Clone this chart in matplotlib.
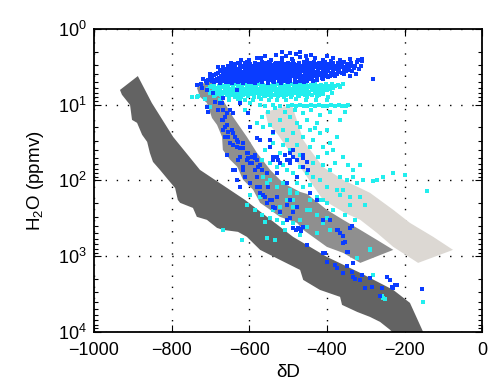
import matplotlib
matplotlib.use("Agg")
import matplotlib.pyplot as plt
from matplotlib.patches import Polygon
from matplotlib.ticker import FixedLocator, LogLocator, NullFormatter

plt.rcParams['font.family'] = ['Liberation Sans', 'DejaVu Sans']
plt.rcParams['mathtext.fontset'] = 'custom'
plt.rcParams['mathtext.rm'] = 'Liberation Sans'
plt.rcParams['mathtext.it'] = 'Liberation Sans:italic'
plt.rcParams['mathtext.default'] = 'regular'

# ---- model envelopes (dD in permil, H2O in ppmv) ----
dark_dD = [-933, -887, -851, -796, -727, -611, -487, -400, -314, -229, -186, -142,
           -211, -237, -263, -289, -322, -361, -366, -418, -461, -469, -521, -572,
           -606, -629, -668, -683, -709, -735, -745, -778, -784, -791, -809, -830,
           -848, -856, -863, -876, -889, -902, -907, -928]
dark_h2o = [6.4, 4.2, 9.5, 26.7, 72.7, 181, 557, 1023, 1665, 2792, 4143, 13000,
            13000, 9414, 7380, 6340, 5450, 4400, 3450, 2790, 2060, 1520, 1120, 827,
            557, 478, 450, 424, 332, 303, 231, 198, 181, 126, 98, 72.7,
            57, 43.4, 31, 25, 17.4, 15.9, 10.1, 7.4]

mid_dD = [-735, -701, -668, -642, -606, -580, -546, -513, -469, -451, -400, -358,
          -314, -271, -229, -314, -358, -400, -425, -461, -477, -521, -546, -572,
          -590, -616, -631, -649, -668, -670, -683, -696, -709, -727]
mid_h2o = [6.0, 4.57, 8.65, 14.5, 26.7, 43.4, 72.7, 108, 142, 151, 245, 332,
           450, 611, 827, 1228, 906, 755, 610, 450, 364, 303, 245, 198,
           133, 98, 66, 53.6, 39.6, 26.7, 18.5, 15.0, 9.5, 7.9]

light_dD = [-559, -490, -461, -443, -410, -358, -289, -229, -186, -126, -75,
            -165, -229, -271, -314, -353, -410, -469, -526, -552]
light_h2o = [12.5, 10.1, 29.2, 39.6, 66.4, 98.5, 146, 245, 364, 557, 827,
             1228, 755, 493, 332, 270, 181, 66.4, 25, 17.4]

# ---- observations: upper (blue) ----
blue_pts = [
    (-600, 2.55), (-570, 2.45), (-545, 2.6), (-515, 2.4), (-490, 2.5), (-470, 2.35), (-452, 2.6),
    (-430, 2.45), (-410, 2.55), (-385, 2.4), (-365, 2.6), (-340, 2.5), (-320, 2.55), (-505, 2.25),
    (-560, 2.3), (-440, 2.2), (-480, 2.15),
    (-630, 2.8), (-605, 2.7), (-585, 2.85), (-566, 2.75), (-550, 2.7), (-532, 2.85), (-516, 2.75),
    (-500, 2.8), (-487, 2.65), (-473, 2.8), (-460, 2.75), (-446, 2.85), (-433, 2.7), (-420, 2.8),
    (-405, 2.75), (-390, 2.65), (-372, 2.8), (-355, 2.7), (-338, 2.85), (-322, 2.75), (-310, 2.65),
    (-642, 2.88), (-624, 2.9), (-611, 2.85), (-598, 2.92), (-585, 2.87), (-572, 2.9), (-559, 2.84),
    (-546, 2.92), (-534, 2.88), (-521, 2.85), (-509, 2.93), (-496, 2.87), (-484, 2.9), (-472, 2.84),
    (-459, 2.92), (-447, 2.88), (-435, 2.86), (-422, 2.93), (-410, 2.87), (-397, 2.9), (-383, 2.85),
    (-366, 2.92), (-349, 2.88),
    (-655, 3.05), (-636, 2.95), (-620, 3.05), (-606, 2.9), (-592, 3.1), (-579, 2.95), (-566, 3.05),
    (-553, 2.9), (-541, 3.0), (-528, 3.1), (-515, 2.95), (-503, 3.05), (-491, 2.9), (-478, 3.0),
    (-466, 3.1), (-454, 2.95), (-441, 3.05), (-429, 2.9), (-416, 3.0), (-403, 3.1), (-390, 2.95),
    (-376, 3.05), (-360, 2.9), (-343, 3.0), (-327, 3.05),
    (-668, 3.15), (-650, 3.12), (-637, 3.18), (-624, 3.14), (-611, 3.2), (-598, 3.12), (-585, 3.17),
    (-572, 3.13), (-560, 3.19), (-547, 3.15), (-535, 3.12), (-522, 3.18), (-509, 3.14), (-497, 3.2),
    (-485, 3.12), (-473, 3.16), (-461, 3.13), (-448, 3.19), (-436, 3.15), (-424, 3.12), (-411, 3.18),
    (-398, 3.14), (-385, 3.2), (-370, 3.13), (-354, 3.16), (-338, 3.12),
    (-662, 3.35), (-645, 3.25), (-630, 3.4), (-617, 3.2), (-604, 3.3), (-591, 3.4), (-578, 3.25),
    (-566, 3.35), (-553, 3.2), (-541, 3.3), (-528, 3.4), (-516, 3.25), (-503, 3.35), (-491, 3.2),
    (-479, 3.3), (-467, 3.4), (-455, 3.25), (-442, 3.35), (-430, 3.2), (-418, 3.3), (-405, 3.4),
    (-392, 3.25), (-378, 3.35), (-362, 3.2), (-346, 3.3), (-330, 3.25),
    (-670, 3.45), (-652, 3.48), (-637, 3.43), (-623, 3.5), (-610, 3.45), (-597, 3.42), (-584, 3.48),
    (-572, 3.44), (-559, 3.5), (-547, 3.46), (-534, 3.42), (-522, 3.48), (-509, 3.45), (-497, 3.5),
    (-485, 3.43), (-473, 3.47), (-461, 3.44), (-448, 3.5), (-436, 3.46), (-424, 3.42), (-411, 3.48),
    (-398, 3.45), (-385, 3.5), (-371, 3.43), (-357, 3.47), (-342, 3.44),
    (-675, 3.6), (-658, 3.7), (-642, 3.55), (-628, 3.65), (-615, 3.75), (-602, 3.55), (-589, 3.65),
    (-576, 3.7), (-563, 3.55), (-550, 3.65), (-538, 3.75), (-525, 3.6), (-512, 3.7), (-500, 3.55),
    (-487, 3.65), (-475, 3.75), (-462, 3.6), (-450, 3.7), (-437, 3.55), (-424, 3.65), (-411, 3.75),
    (-398, 3.6), (-384, 3.7), (-368, 3.55), (-352, 3.65), (-336, 3.6),
    (-680, 3.78), (-664, 3.82), (-649, 3.76), (-635, 3.8), (-621, 3.84), (-608, 3.77), (-595, 3.81),
    (-582, 3.75), (-569, 3.83), (-556, 3.79), (-543, 3.76), (-531, 3.82), (-518, 3.78), (-505, 3.84),
    (-493, 3.76), (-480, 3.8), (-468, 3.77), (-455, 3.83), (-442, 3.79), (-429, 3.75), (-416, 3.82),
    (-402, 3.78), (-388, 3.84), (-372, 3.76), (-360, 3.8),
    (-685, 3.95), (-668, 4.05), (-652, 3.9), (-638, 4.0), (-624, 4.1), (-611, 3.9), (-598, 4.0),
    (-585, 4.1), (-572, 3.95), (-559, 4.05), (-546, 3.9), (-533, 4.0), (-521, 4.1), (-508, 3.95),
    (-495, 4.05), (-483, 3.9), (-470, 4.0), (-457, 4.1), (-444, 3.95), (-431, 4.05), (-418, 3.9),
    (-404, 4.0), (-390, 4.1), (-374, 3.95), (-356, 4.0),
    (-690, 4.12), (-672, 4.16), (-657, 4.1), (-642, 4.18), (-628, 4.13), (-615, 4.2), (-602, 4.11),
    (-589, 4.17), (-576, 4.14), (-563, 4.2), (-550, 4.1), (-537, 4.16), (-524, 4.13), (-511, 4.19),
    (-498, 4.11), (-486, 4.17), (-473, 4.14), (-460, 4.2), (-447, 4.12), (-434, 4.16), (-421, 4.1),
    (-407, 4.18), (-393, 4.14), (-378, 4.1),
    (-695, 4.3), (-678, 4.4), (-662, 4.25), (-647, 4.35), (-633, 4.45), (-620, 4.25), (-607, 4.35),
    (-594, 4.45), (-581, 4.3), (-568, 4.4), (-555, 4.25), (-542, 4.35), (-529, 4.45), (-516, 4.3),
    (-503, 4.4), (-490, 4.25), (-477, 4.35), (-464, 4.45), (-451, 4.3), (-438, 4.4), (-425, 4.25),
    (-411, 4.35), (-396, 4.3), (-380, 4.2),
    (-700, 4.5), (-684, 4.56), (-668, 4.48), (-653, 4.55), (-639, 4.6), (-625, 4.5), (-612, 4.57),
    (-599, 4.48), (-586, 4.55), (-573, 4.6), (-559, 4.5), (-546, 4.57), (-533, 4.48), (-520, 4.55),
    (-507, 4.6), (-494, 4.5), (-481, 4.56), (-467, 4.48), (-454, 4.55), (-440, 4.5), (-425, 4.56),
    (-412, 4.48),
    (-705, 4.7), (-688, 4.8), (-672, 4.65), (-657, 4.75), (-643, 4.85), (-629, 4.65), (-616, 4.75),
    (-602, 4.85), (-589, 4.7), (-576, 4.8), (-562, 4.65), (-549, 4.75), (-536, 4.85), (-522, 4.7),
    (-509, 4.8), (-496, 4.65), (-482, 4.75), (-469, 4.7), (-455, 4.8), (-441, 4.65), (-426, 4.7),
    (-410, 4.6),
    (-712, 4.9), (-696, 4.95), (-680, 4.88), (-665, 4.93), (-650, 4.98), (-636, 4.88), (-622, 4.94),
    (-608, 4.9), (-594, 4.97), (-580, 4.88), (-566, 4.93), (-552, 4.98), (-538, 4.9), (-524, 4.95),
    (-510, 4.88), (-496, 4.92), (-482, 4.96), (-468, 4.88), (-452, 4.93), (-436, 4.9),
    (-710, 5.15), (-692, 5.05), (-676, 5.2), (-660, 5.1), (-645, 5.25), (-630, 5.05), (-615, 5.15),
    (-600, 5.1), (-584, 5.2), (-568, 5.05), (-552, 5.15), (-536, 5.1), (-519, 5.2), (-500, 5.05),
    (-480, 5.1), (-458, 5.0),
    (-680, 3.2), (-700, 3.9), (-720, 4.6), (-725, 5.3), (-312, 3.1), (-318, 3.4),
    (-325, 3.9), (-340, 4.25), (-309, 2.5), (-281, 4.6), (-495, 2.1), (-530, 2.2), (-455, 2.3),
    (-400, 2.3), (-580, 2.45), (-620, 2.6), (-648, 2.8), (-515, 2.05), (-470, 2.0),
    # deeper profile points
    (-735, 5.5), (-722, 6.0), (-709, 6.4), (-696, 4.7), (-688, 9.2), (-693, 7.0), (-675, 9.5),
    (-668, 8.1), (-668, 11.7), (-680, 11.7), (-662, 14.5), (-670, 15.9), (-657, 18.5), (-644, 21.6),
    (-655, 26.7), (-637, 26.7), (-642, 34), (-629, 31), (-616, 37.2), (-624, 49), (-606, 53.6),
    (-603, 43.4), (-598, 58.7), (-585, 50.5), (-577, 66.3), (-567, 72.7), (-554, 79.6), (-616, 72.7),
    (-624, 122), (-642, 72.7), (-631, 6.4), (-624, 9.5), (-642, 12.8), (-603, 12.8), (-598, 19.6),
    (-572, 29.2), (-546, 36), (-539, 49), (-526, 53.6), (-495, 58.7), (-477, 53.6), (-461, 66.3),
    (-449, 72.7), (-709, 10.7), (-706, 12.4), (-670, 9.5), (-657, 12.8), (-650, 11.7), (-668, 15.9),
    (-662, 19.6), (-655, 22.9), (-642, 23.6), (-631, 29.2), (-650, 32), (-624, 37.2), (-616, 32),
    (-606, 43.4), (-603, 50.5), (-593, 49), (-585, 46), (-580, 53.6), (-593, 58.7), (-572, 62.4),
    (-637, 72.7), (-631, 98.5), (-611, 89.8), (-598, 108), (-580, 122), (-572, 146), (-559, 165),
    (-546, 181), (-539, 53.6), (-528, 49), (-521, 58.7), (-495, 43.4), (-487, 49), (-461, 50.5),
    (-451, 57), (-487, 39.6), (-503, 53.6), (-539, 223), (-495, 181), (-477, 223), (-443, 146),
    (-668, 21.6), (-662, 26.7), (-657, 46), (-631, 36), (-629, 53.6), (-616, 66.3), (-585, 72.7),
    (-580, 89.8), (-572, 122), (-564, 155), (-541, 181), (-534, 230), (-521, 260), (-503, 332),
    (-487, 420), (-474, 420), (-461, 407), (-469, 435), (-479, 450), (-467, 465), (-495, 313),
    (-528, 79.6), (-503, 108), (-477, 89.8), (-528, 165), (-552, 122), (-580, 27.5), (-546, 29.2),
    (-495, 53.6), (-508, 46), (-539, 22.9), (-461, 46), (-425, 181), (-410, 332), (-392, 332),
    (-371, 450), (-358, 540), (-340, 420), (-451, 710), (-554, 197), (-503, 210), (-487, 260),
    (-374, 450), (-366, 490), (-358, 670), (-335, 400), (-345, 880), (-405, 910), (-400, 1190),
    (-379, 1300), (-358, 1660), (-333, 1900), (-314, 2060), (-302, 2600), (-289, 1930), (-245, 1880),
    (-232, 2550), (-224, 2400), (-155, 2700), (-410, 910), (-374, 1430), (-348, 1350), (-335, 1610),
    (-333, 1250), (-327, 1990), (-309, 1770), (-284, 2550), (-258, 2620), (-263, 3350), (-237, 2060),
    (-219, 2400), (-229, 2620), (-353, 650), (-348, 880),
]

# ---- observations: lower (cyan) ----
cyan_pts = [
    (-690, 5.45), (-672, 5.35), (-660, 5.5), (-648, 5.4), (-636, 5.3), (-624, 5.45), (-612, 5.35),
    (-600, 5.5), (-588, 5.4), (-576, 5.3), (-564, 5.45), (-552, 5.35), (-540, 5.5), (-528, 5.4),
    (-516, 5.3), (-504, 5.45), (-492, 5.35), (-480, 5.5), (-468, 5.4), (-455, 5.3), (-442, 5.45),
    (-430, 5.35), (-416, 5.5), (-402, 5.4), (-388, 5.3), (-372, 5.45), (-358, 5.35),
    (-695, 5.65), (-678, 5.7), (-666, 5.62), (-654, 5.68), (-642, 5.72), (-630, 5.63), (-618, 5.69),
    (-606, 5.64), (-594, 5.71), (-582, 5.66), (-570, 5.62), (-558, 5.7), (-546, 5.65), (-534, 5.72),
    (-522, 5.63), (-510, 5.68), (-498, 5.64), (-486, 5.7), (-474, 5.66), (-461, 5.62), (-448, 5.7),
    (-436, 5.65), (-423, 5.72), (-409, 5.64), (-395, 5.68), (-380, 5.63), (-365, 5.7),
    (-700, 5.9), (-684, 6.0), (-668, 5.85), (-655, 5.95), (-642, 6.05), (-630, 5.85), (-618, 5.95),
    (-606, 6.05), (-594, 5.9), (-582, 6.0), (-570, 5.85), (-558, 5.95), (-546, 6.05), (-534, 5.9),
    (-522, 6.0), (-510, 5.85), (-498, 5.95), (-486, 6.05), (-473, 5.9), (-460, 6.0), (-446, 5.85),
    (-432, 5.95), (-418, 6.05), (-400, 5.9), (-385, 6.0), (-366, 5.85),
    (-705, 6.2), (-690, 6.25), (-676, 6.18), (-662, 6.24), (-649, 6.3), (-636, 6.19), (-624, 6.26),
    (-612, 6.21), (-600, 6.28), (-588, 6.18), (-576, 6.24), (-564, 6.3), (-552, 6.2), (-540, 6.26),
    (-528, 6.18), (-516, 6.24), (-504, 6.29), (-492, 6.19), (-479, 6.25), (-466, 6.21), (-452, 6.28),
    (-438, 6.18), (-424, 6.24), (-408, 6.2), (-392, 6.26),
    (-710, 6.5), (-692, 6.6), (-676, 6.45), (-662, 6.55), (-649, 6.65), (-636, 6.45), (-623, 6.55),
    (-611, 6.65), (-598, 6.5), (-586, 6.6), (-574, 6.45), (-561, 6.55), (-549, 6.65), (-537, 6.5),
    (-524, 6.6), (-511, 6.45), (-498, 6.55), (-484, 6.65), (-470, 6.5), (-454, 6.6), (-438, 6.45),
    (-420, 6.55), (-400, 6.5),
    (-700, 6.8), (-684, 6.86), (-669, 6.78), (-656, 6.84), (-643, 6.9), (-630, 6.79), (-617, 6.85),
    (-604, 6.8), (-592, 6.88), (-580, 6.78), (-567, 6.84), (-555, 6.9), (-543, 6.8), (-530, 6.86),
    (-517, 6.78), (-504, 6.84), (-491, 6.9), (-477, 6.8), (-462, 6.86), (-446, 6.78), (-429, 6.84),
    (-410, 6.8),
    (-700, 7.1), (-680, 7.2), (-664, 7.05), (-650, 7.15), (-636, 7.25), (-622, 7.05), (-609, 7.15),
    (-596, 7.25), (-583, 7.1), (-570, 7.2), (-557, 7.05), (-543, 7.15), (-529, 7.25), (-514, 7.1),
    (-499, 7.2), (-483, 7.05), (-466, 7.15), (-448, 7.25), (-430, 7.1), (-410, 7.2), (-388, 7.05),
    (-690, 7.45), (-672, 7.5), (-657, 7.42), (-643, 7.48), (-629, 7.52), (-615, 7.43), (-602, 7.49),
    (-589, 7.44), (-576, 7.51), (-563, 7.42), (-550, 7.48), (-536, 7.45), (-521, 7.5), (-506, 7.43),
    (-490, 7.48), (-474, 7.44), (-457, 7.5), (-439, 7.42), (-420, 7.48),
    (-690, 7.8), (-670, 7.9), (-652, 7.75), (-636, 7.85), (-620, 7.95), (-604, 7.75), (-589, 7.85),
    (-574, 7.95), (-559, 7.8), (-543, 7.9), (-527, 7.75), (-510, 7.85), (-492, 7.95), (-472, 7.8),
    (-450, 7.9), (-425, 7.75), (-398, 7.85),
    (-676, 8.6), (-652, 8.7), (-630, 8.5), (-610, 8.65), (-590, 8.8), (-570, 8.55), (-550, 8.7),
    (-528, 8.6), (-505, 8.8), (-480, 8.5), (-455, 8.65), (-428, 8.75), (-400, 8.6),
    (-559, 10.4), (-540, 10.2), (-520, 10.5), (-500, 10.3), (-490, 10.1), (-480, 10.4), (-470, 10.2),
    (-460, 10.5), (-450, 10.3), (-440, 10.1), (-430, 10.4), (-420, 10.2), (-410, 10.5), (-400, 10.3),
    (-390, 10.1), (-380, 10.4), (-370, 10.2), (-360, 10.5), (-352, 10.3), (-345, 10.0),
    (-747, 7.9), (-735, 7.9), (-732, 7.6),
    (-580, 17.4), (-564, 19.6), (-539, 23.6), (-521, 15.9), (-495, 14.5), (-513, 21.6), (-487, 23.6),
    (-469, 19.6), (-451, 15.9), (-443, 21.6), (-461, 26.7), (-436, 29.2), (-425, 17.4), (-418, 23.6),
    (-410, 36), (-392, 32), (-384, 39.6), (-400, 43.4), (-366, 15.9), (-374, 26.7), (-358, 49),
    (-539, 32), (-503, 29.2), (-495, 39.6), (-528, 66.3), (-503, 72.7), (-487, 79.6), (-469, 66.3),
    (-451, 79.6), (-436, 89.8), (-418, 98.5), (-400, 122), (-564, 89.8), (-546, 98.5), (-580, 89.8),
    (-528, 122), (-513, 108), (-495, 133), (-477, 146), (-461, 122), (-443, 181), (-425, 165),
    (-410, 181), (-503, 181), (-521, 223), (-487, 223), (-451, 245), (-392, 72.7), (-366, 89.8),
    (-348, 98.5), (-333, 89.8), (-322, 108), (-307, 98.5), (-271, 98.5), (-255, 89.8), (-374, 133),
    (-340, 165), (-554, 108), (-229, 79.6), (-199, 84.6), (-142, 139), (-281, 103), (-495, 146),
    (-487, 181), (-418, 181), (-400, 197), (-443, 245), (-425, 285), (-400, 313), (-410, 368),
    (-469, 332), (-495, 313), (-521, 270), (-539, 245), (-513, 368), (-487, 368), (-528, 332),
    (-546, 313), (-366, 155), (-314, 165), (-340, 210), (-327, 332), (-384, 245), (-358, 133),
    (-451, 407), (-392, 450), (-425, 490), (-554, 580), (-534, 610), (-322, 1050), (-289, 826),
    (-668, 450), (-619, 610), (-255, 3550), (-258, 3350), (-152, 4040), (-281, 1770), (-289, 800),
    (-250, 3650),
    (-624, 8.7), (-598, 9.5), (-572, 10.1), (-611, 11.7), (-552, 12.4), (-534, 11.0), (-508, 12.4),
    (-482, 11.7), (-461, 12.8), (-440, 11.7), (-418, 13.7), (-392, 12.4), (-353, 12.4), (-567, 14.5),
    (-546, 18.5), (-477, 17.4), (-430, 20.2), (-400, 21.6), (-513, 34), (-477, 34), (-443, 36),
    (-423, 49), (-469, 46), (-521, 43.4), (-559, 39.6), (-567, 53.6), (-546, 58.7), (-513, 62.4),
    (-436, 58.7), (-410, 62.4), (-379, 58.7), (-345, 62.4), (-314, 62.4), (-333, 72.7), (-477, 108),
    (-443, 115), (-572, 165), (-598, 155), (-606, 210), (-585, 245), (-567, 285), (-559, 350),
    (-469, 523), (-508, 450), (-353, 285), (-302, 210), (-688, 7.4), (-714, 8.4), (-701, 10.7),
]

x_ticks = [-1000, -800, -600, -400, -200, 0]
y_ticks = [1, 10, 100, 1000, 10000]
y_ticklabels = ['$10^{0}$', '$10^{1}$', '$10^{2}$', '$10^{3}$', '$10^{4}$']

fig = plt.figure(figsize=(4.92, 3.90), dpi=100)
ax = fig.add_axes([0.191, 0.149, 0.789, 0.777])
ax.set_yscale('log')
ax.set_xlim(-1000, 0)
ax.set_ylim(1e4, 1)
ax.set_axisbelow(True)

for xs, ys, col, z in [(light_dD, light_h2o, '#dcd8d3', 1),
                       (mid_dD, mid_h2o, '#8f8f8f', 2),
                       (dark_dD, dark_h2o, '#636363', 3)]:
    ax.add_patch(Polygon(list(zip(xs, ys)), closed=True, facecolor=col,
                         edgecolor='none', zorder=z))

cx, cy = zip(*cyan_pts)
bx, by = zip(*blue_pts)
ax.plot(cx, cy, linestyle='none', marker='s', ms=2.5, mew=0, color='#22eeee', zorder=4)
ax.plot(bx, by, linestyle='none', marker='s', ms=2.5, mew=0, color='#0a3cff', zorder=5)

ax.xaxis.set_major_locator(FixedLocator(x_ticks))
ax.set_yticks(y_ticks)
ax.set_yticklabels(y_ticklabels)
ax.yaxis.set_minor_locator(LogLocator(base=10, subs=range(2, 10)))
ax.yaxis.set_minor_formatter(NullFormatter())

ax.grid(True, which='major', color='k', linestyle=(0, (1, 7)), linewidth=1.0)
ax.tick_params(which='both', direction='in', top=True, right=True,
               labelsize=13, width=0.8, colors='k')
ax.tick_params(which='major', length=5)
ax.tick_params(axis='x', which='major', pad=7)
ax.tick_params(axis='y', which='major', pad=5)
ax.tick_params(which='minor', length=3)
for s in ax.spines.values():
    s.set_linewidth(1.3)
    s.set_zorder(10)

ax.set_xlabel('δD', fontsize=13.5, labelpad=4)
ax.set_ylabel('H$_2$O (ppmv)', fontsize=13.5, labelpad=9)

fig.savefig('out.png', dpi=100)
